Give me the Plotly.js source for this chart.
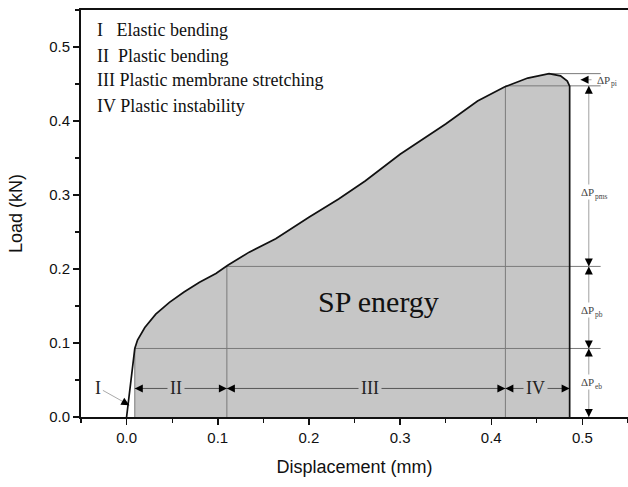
<!DOCTYPE html>
<html>
<head>
<meta charset="utf-8">
<script src="https://cdn.plot.ly/plotly-3.0.1.min.js"></script>
<style>html,body{margin:0;padding:0;background:#fff;}#chart{width:628px;height:487px;}</style>
</head>
<body>
<div id="chart"></div>
<script>
// Load-displacement curve (mm, kN)
var curveX = [0, 0.009, 0.012, 0.02, 0.032, 0.047, 0.063, 0.08, 0.098, 0.111, 0.1345, 0.1636, 0.2, 0.2326, 0.2617, 0.3, 0.35, 0.385, 0.4144, 0.44, 0.4634, 0.476, 0.4834, 0.486, 0.486];
var curveY = [0, 0.0925, 0.104, 0.121, 0.139, 0.155, 0.169, 0.182, 0.194, 0.205, 0.2228, 0.241, 0.270, 0.2947, 0.319, 0.355, 0.396, 0.427, 0.446, 0.458, 0.464, 0.461, 0.454, 0.447, 0];
// Stage boundaries (displacement) and boundary loads
var stageX = [0.009, 0.11, 0.4155, 0.486];
var stageLoad = [0.0926, 0.2035, 0.4475, 0.464];
var peakX = 0.4634;
var dimX = 0.507;       // displacement of the load-increment dimension line
var dimEndX = 0.52;     // end of the horizontal reference lines
var piTipX = 0.498;
var stageLabels = ["II", "III", "IV"];
var deltaMain = "ΔP";
var deltaSubs = ["eb", "pb", "pms", "pi"];
var legendLines = ["I\u00a0\u00a0\u00a0Elastic bending", "II\u00a0\u00a0Plastic bending", "III Plastic membrane stretching", "IV Plastic instability"];
var xTicks = [0.0, 0.1, 0.2, 0.3, 0.4, 0.5];
var yTicks = [0.0, 0.1, 0.2, 0.3, 0.4, 0.5];

var serif = "Liberation Serif, Times New Roman, serif";
var sans = "Liberation Sans, Arial, sans-serif";
var fillGray = "#c6c6c6";

// filled "SP energy" area
var fillX = curveX.slice(1).concat([curveX[1]]);
var fillY = curveY.slice(1).concat([0]);

// gray reference lines
var gx = [], gy = [];
function seg(x0, y0, x1, y1){ gx.push(x0, x1, null); gy.push(y0, y1, null); }
seg(stageX[0], 0, stageX[0], stageLoad[0]);
seg(stageX[1], 0, stageX[1], stageLoad[1]);
seg(stageX[2], 0, stageX[2], stageLoad[2]);
seg(stageX[0], stageLoad[0], dimEndX, stageLoad[0]);
seg(stageX[1], stageLoad[1], dimEndX, stageLoad[1]);
seg(stageX[2], stageLoad[2], dimEndX, stageLoad[2]);
seg(peakX, stageLoad[3], dimEndX, stageLoad[3]);

// dimension line on the right
var piY = (stageLoad[2] + stageLoad[3]) / 2;
var dx = [dimX, dimX, null, piTipX, piTipX + 0.012], dy = [0, stageLoad[2], null, piY, piY];

// stage arrows at bottom
var arrowY = 0.0386;
var ax = [], ay = [];
for (var i = 0; i < 3; i++) { ax.push(stageX[i], stageX[i+1], null); ay.push(arrowY, arrowY, null); }

// arrow pointing at stage I
var iArrowX = [-0.026, 0.003], iArrowY = [0.036, 0.016];

// arrowheads (marker tip sits on the point)
var hx = [], hy = [], hs = [], ha = [];
function head(x, y, sym, ang){ hx.push(x); hy.push(y); hs.push(sym); ha.push(ang || 0); }
for (var k = 0; k < 3; k++) { head(stageX[k], arrowY, "arrow-left"); head(stageX[k+1], arrowY, "arrow-right"); }
head(dimX, 0, "arrow-down");
head(dimX, stageLoad[0], "arrow-up");
head(dimX, stageLoad[0], "arrow-down");
head(dimX, stageLoad[1], "arrow-up");
head(dimX, stageLoad[1], "arrow-down");
head(dimX, stageLoad[2], "arrow-up");
head(piTipX, piY, "arrow-left");
head(iArrowX[1], iArrowY[1], "arrow-up", 119);

var traces = [
  {x: fillX, y: fillY, mode: "lines", fill: "toself", fillcolor: fillGray, line: {width: 0}, hoverinfo: "skip"},
  {x: gx, y: gy, mode: "lines", line: {color: "#7a7a7a", width: 1}, hoverinfo: "skip"},
  {x: dx, y: dy, mode: "lines", line: {color: "#a0a0a0", width: 1}, hoverinfo: "skip"},
  {x: ax, y: ay, mode: "lines", line: {color: "#555", width: 1}, hoverinfo: "skip"},
  {x: iArrowX, y: iArrowY, mode: "lines", line: {color: "#aaa", width: 1}, hoverinfo: "skip"},
  {x: curveX, y: curveY, mode: "lines", line: {color: "#111", width: 1.7}, hoverinfo: "skip"},
  {x: hx, y: hy, mode: "markers", marker: {symbol: hs, angle: ha, size: 8, color: "#000", line: {width: 0}}, hoverinfo: "skip"}
];

var ann = [];
// stage labels
var stageMid = [0.0545, 0.267, 0.448];
for (var s = 0; s < 3; s++) {
  ann.push({x: stageMid[s], y: arrowY, xref: "x", yref: "y", text: stageLabels[s], showarrow: false,
    font: {family: serif, size: 18, color: "#222"}, bgcolor: fillGray, borderpad: 2});
}
ann.push({x: -0.031, y: arrowY, xref: "x", yref: "y", text: "I", showarrow: false,
  font: {family: serif, size: 18, color: "#222"}});

// delta labels: main "ΔP" plus a smaller subscript text
var deltaX = [0.4965, 0.4965, 0.4965, 0.5139];
var deltaY = [0.047, 0.144, 0.304, piY];
var deltaBg = ["#fff", "#fff", "#fff", "rgba(0,0,0,0)"];
for (var d = 0; d < 4; d++) {
  ann.push({x: deltaX[d], y: deltaY[d], xref: "x", yref: "y", xanchor: "left", text: deltaMain, showarrow: false,
    font: {family: serif, size: 11, color: "#444"}, bgcolor: deltaBg[d], borderpad: 1});
  ann.push({x: deltaX[d], y: deltaY[d], xref: "x", yref: "y", xanchor: "left", xshift: 14, yshift: -4,
    text: deltaSubs[d], showarrow: false, font: {family: serif, size: 7.5, color: "#444"}});
}

// SP energy
ann.push({x: 0.2766, y: 0.156, xref: "x", yref: "y", text: "SP energy", showarrow: false,
  font: {family: serif, size: 30, color: "#111"}});

// legend text
var legY = [0.9497, 0.888, 0.827, 0.763];
for (var l = 0; l < 4; l++) {
  ann.push({x: 0.0256, y: legY[l], xref: "paper", yref: "paper", xanchor: "left", yanchor: "middle",
    text: legendLines[l], showarrow: false, font: {family: serif, size: 18, color: "#111"}});
}

var axisCommon = {
  showgrid: false, zeroline: false, showline: true, linecolor: "#111", linewidth: 2, mirror: true,
  ticks: "outside", ticklen: 6, tickwidth: 1.5, tickcolor: "#111",
  tickfont: {family: sans, size: 15, color: "#111"}, tickformat: ".1f"
};

var layout = {
  width: 628, height: 487,
  margin: {l: 81, r: 0, t: 10, b: 70},
  paper_bgcolor: "#fff", plot_bgcolor: "#fff",
  showlegend: false,
  xaxis: Object.assign({}, axisCommon, {
    range: [-0.05, 0.55], tickvals: xTicks,
    minor: {dtick: 0.05, ticks: "outside", ticklen: 4, tickwidth: 1.2, tickcolor: "#111"},
    title: {text: "Displacement (mm)", font: {family: sans, size: 18, color: "#111"}, standoff: 15}
  }),
  yaxis: Object.assign({}, axisCommon, {
    range: [0, 0.55], tickvals: yTicks,
    minor: {dtick: 0.05, ticks: "outside", ticklen: 4, tickwidth: 1.2, tickcolor: "#111"},
    title: {text: "Load (kN)", font: {family: sans, size: 18, color: "#111"}, standoff: 22}
  }),
  annotations: ann
};

Plotly.newPlot("chart", traces, layout, {staticPlot: true, displayModeBar: false});
</script>
</body>
</html>
